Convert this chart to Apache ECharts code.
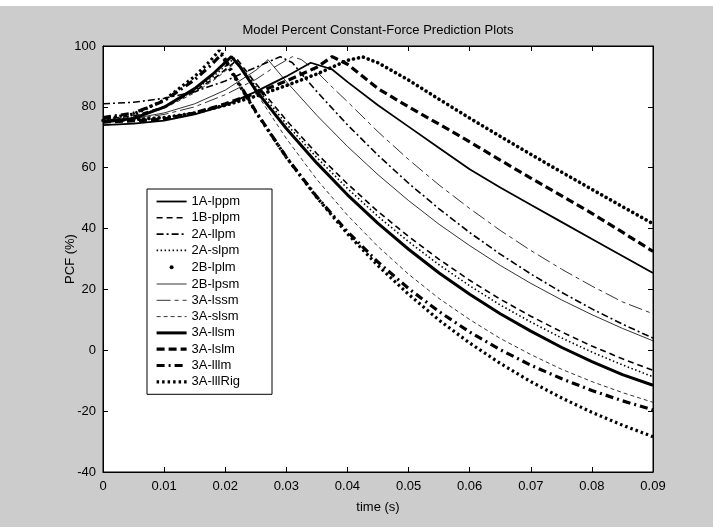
<!DOCTYPE html>
<html>
<head>
<meta charset="utf-8">
<script src="https://cdn.jsdelivr.net/npm/echarts@6/dist/echarts.min.js"></script>
<style>
html,body{margin:0;padding:0;background:#cccccc;overflow:hidden;}
#c{width:713px;height:527px;}
</style>
</head>
<body>
<div id="c"></div>
<script>
// ---- data (time in s, PCF in %) ----
const s1A_lppm = [[0,74],[0.005,74.5],[0.01,75.5],[0.015,77.5],[0.02,80.5],[0.025,85],[0.03,90],[0.034,94.5],[0.0375,92.3],[0.04,88.2],[0.045,80.5],[0.05,73.5],[0.055,66.5],[0.06,59.5],[0.065,53.5],[0.07,47.8],[0.075,42.2],[0.08,36.6],[0.085,31],[0.09,25.4]];
const s1B_plpm = [[0,76],[0.005,77],[0.01,80],[0.015,85.1],[0.0185,89.8],[0.022,95.5],[0.025,87.7],[0.03,75.6],[0.035,64.6],[0.04,54.7],[0.045,45.6],[0.05,37.4],[0.055,29.9],[0.06,23],[0.065,16.8],[0.07,11.2],[0.075,6.1],[0.08,1.4],[0.085,-2.8],[0.09,-6.6]];
const s2A_llpm = [[0,81],[0.005,81.5],[0.01,82.8],[0.015,85],[0.02,88.5],[0.025,93],[0.029,96.5],[0.031,94.5],[0.0325,90.8],[0.035,85],[0.04,74.1],[0.045,64.1],[0.05,54.9],[0.055,46.5],[0.06,38.7],[0.065,31.6],[0.07,25.1],[0.075,19.1],[0.08,13.6],[0.085,8.6],[0.09,4]];
const s2A_slpm = [[0,75.5],[0.005,76.6],[0.01,79.9],[0.015,85.5],[0.018,89.9],[0.0215,96],[0.025,86.7],[0.03,74.4],[0.035,63.3],[0.04,53.2],[0.045,44],[0.05,35.7],[0.055,28.1],[0.06,21.2],[0.065,14.9],[0.07,9.3],[0.075,4.1],[0.08,-0.6],[0.085,-4.8],[0.09,-8.7]];
const s2B_lplm = [[0,75.5],[0.005,75.8],[0.01,76.5],[0.015,78],[0.02,80.5],[0.025,83.5],[0.03,87],[0.035,90.8],[0.04,95.3],[0.0425,96.4],[0.045,94.5],[0.05,88.8],[0.055,82.5],[0.06,76.3],[0.065,70.3],[0.07,64.4],[0.075,58.6],[0.08,52.9],[0.085,47.2],[0.09,41.6]];
const s2B_lpsm = [[0,75.5],[0.005,76.2],[0.01,78],[0.015,81],[0.02,85.5],[0.025,92],[0.027,95.5],[0.03,88.3],[0.035,77.2],[0.04,67],[0.045,57.7],[0.05,49.2],[0.055,41.4],[0.06,34.4],[0.065,27.9],[0.07,22],[0.075,16.6],[0.08,11.7],[0.085,7.2],[0.09,3.1]];
const s3A_lssm = [[0,75.5],[0.005,76],[0.01,77.5],[0.015,80],[0.02,84],[0.025,89],[0.028,93],[0.031,96.5],[0.0325,95.5],[0.035,91.5],[0.0375,86.5],[0.04,81.7],[0.045,71.8],[0.05,62.7],[0.055,54.3],[0.06,46.6],[0.065,39.4],[0.07,32.8],[0.075,26.7],[0.08,21.1],[0.085,15.9],[0.09,12]];
const s3A_slsm = [[0,75.5],[0.005,76.5],[0.01,79.5],[0.015,84.6],[0.0185,89.3],[0.022,95],[0.025,84.8],[0.03,69.6],[0.035,56.1],[0.04,44.4],[0.045,34.1],[0.05,25],[0.055,17],[0.06,10.1],[0.065,3.9],[0.07,-1.4],[0.075,-6.2],[0.08,-10.3],[0.085,-13.9],[0.09,-17.1]];
const s3A_llsm = [[0,75],[0.005,76.2],[0.01,79.9],[0.015,86],[0.018,90.8],[0.021,96.5],[0.0225,93],[0.025,85.5],[0.03,72.9],[0.035,61.5],[0.04,51.1],[0.045,41.7],[0.05,33.2],[0.055,25.4],[0.06,18.4],[0.065,12],[0.07,6.3],[0.075,1],[0.08,-3.7],[0.085,-8],[0.09,-11.5]];
const s3A_lslm = [[0,75],[0.005,75.4],[0.01,76],[0.015,78],[0.02,81],[0.025,84.5],[0.03,88.5],[0.035,93],[0.0375,96.5],[0.04,94],[0.045,86],[0.05,80],[0.055,74.3],[0.06,68.5],[0.065,62.5],[0.07,56.6],[0.075,50.8],[0.08,45],[0.085,38.8],[0.09,32.5]];
const s3A_lllm = [[0,76.5],[0.005,77.9],[0.01,82],[0.015,88.9],[0.0175,93.4],[0.0195,97.5],[0.0215,90.3],[0.025,78.5],[0.03,63.5],[0.035,50.4],[0.04,39],[0.045,29],[0.05,20.3],[0.055,12.7],[0.06,6],[0.065,0.2],[0.07,-4.9],[0.075,-9.3],[0.08,-13.2],[0.085,-16.6],[0.09,-19.6]];
const s3A_lllRig = [[0,76],[0.005,77.6],[0.01,82.2],[0.015,90],[0.0175,95],[0.019,98.5],[0.021,91.5],[0.025,78.3],[0.03,63.4],[0.035,50.2],[0.04,38.3],[0.045,27.8],[0.05,18.4],[0.055,9.9],[0.06,2.4],[0.065,-4.3],[0.07,-10.3],[0.075,-15.6],[0.08,-20.4],[0.085,-24.6],[0.09,-28.4]];

const seriesNames = ['1A-lppm','1B-plpm','2A-llpm','2A-slpm','2B-lplm','2B-lpsm','3A-lssm','3A-slsm','3A-llsm','3A-lslm','3A-lllm','3A-lllRig'];
const seriesData = [s1A_lppm,s1B_plpm,s2A_llpm,s2A_slpm,s2B_lplm,s2B_lpsm,s3A_lssm,s3A_slsm,s3A_llsm,s3A_lslm,s3A_lllm,s3A_lllRig];

const xMin = 0, xMax = 0.09, xStep = 0.01;
const yMin = -40, yMax = 100, yStep = 20;
const titleText = 'Model Percent Constant-Force Prediction Plots';
const xName = 'time (s)';
const yName = 'PCF (%)';

// ---- styles ----
const lineStyles = [
  {width:1.8, type:'solid'},
  {width:1.6, type:[6,4]},
  {width:1.6, type:[7,3,2,3]},
  {width:1.6, type:[1.5,2.5]},
  {width:3.6, type:[0.1,5], cap:'round'},
  {width:0.8, type:'solid'},
  {width:0.8, type:[14,4,4,4]},
  {width:0.8, type:[4,3]},
  {width:3, type:'solid'},
  {width:3.2, type:[8,4]},
  {width:3.2, type:[8,4,2,4]},
  {width:3.2, type:[2.5,3]}
];

const FONT = 'Liberation Sans, Arial, Helvetica, sans-serif';
const chart = echarts.init(document.getElementById('c'), null, {renderer:'canvas'});

const axisCommon = {
  axisLine:{show:true, onZero:false, lineStyle:{color:'#000', width:1}},
  axisTick:{show:true, inside:true, length:5, lineStyle:{color:'#000', width:1}},
  splitLine:{show:false}
};

const series = seriesNames.map((n,i)=>({
  type:'line', name:n, data:seriesData[i], symbol:'none', silent:true,
  itemStyle:{color:'#000'},
  lineStyle:Object.assign({color:'#000'}, lineStyles[i]),
  z: 2 + i
}));

const legendData = seriesNames.map((n,i)=> i===4
  ? {name:n, icon:'path://M0,0M30,14M13,7a2,2 0 1,0 4,0a2,2 0 1,0 -4,0Z', itemStyle:{opacity:1, color:'#000'}}
  : {name:n});

chart.setOption({
  animation:false,
  backgroundColor:'#cccccc',
  color:['#000'],
  grid:{left:103, right:60, top:46, bottom:55, show:true, backgroundColor:'#ffffff', borderColor:'#000', borderWidth:1},
  graphic:[
    {type:'rect', left:0, top:0, shape:{width:713, height:6}, style:{fill:'#ffffff'}, silent:true},
    {type:'text', x:378, y:30, style:{text:titleText, fill:'#000', font:'13px '+FONT, textAlign:'center', textVerticalAlign:'middle'}}
  ],
  legend:{
    orient:'vertical', left:147, top:189,
    itemWidth:30, itemHeight:14, itemGap:3.3,
    padding:[6,32,6,8],
    backgroundColor:'#ffffff', borderColor:'#000', borderWidth:1, borderRadius:0,
    textStyle:{color:'#000', fontSize:13, fontFamily:FONT},
    itemStyle:{opacity:0},
    lineStyle:{width:'inherit', type:'inherit', cap:'inherit'},
    selectedMode:false,
    data:legendData
  },
  xAxis:[
    Object.assign({type:'value', min:xMin, max:xMax, interval:xStep, position:'bottom',
      axisLabel:{color:'#000', fontSize:13, fontFamily:FONT, margin:8, formatter:v=> v===0?'0':(+v.toFixed(2)).toString()},
      name:xName, nameLocation:'middle', nameGap:29, nameMoveOverlap:false, nameTextStyle:{color:'#000', fontSize:13, fontFamily:FONT}}, axisCommon),
    Object.assign({type:'value', min:xMin, max:xMax, interval:xStep, position:'top', axisLabel:{show:false}}, axisCommon)
  ],
  yAxis:[
    Object.assign({type:'value', min:yMin, max:yMax, interval:yStep, position:'left',
      axisLabel:{color:'#000', fontSize:13, fontFamily:FONT, margin:7},
      name:yName, nameLocation:'middle', nameGap:26, nameMoveOverlap:false, nameTextStyle:{color:'#000', fontSize:13, fontFamily:FONT}}, axisCommon),
    Object.assign({type:'value', min:yMin, max:yMax, interval:yStep, position:'right', axisLabel:{show:false}}, axisCommon)
  ],
  series:series
});
</script>
</body>
</html>
